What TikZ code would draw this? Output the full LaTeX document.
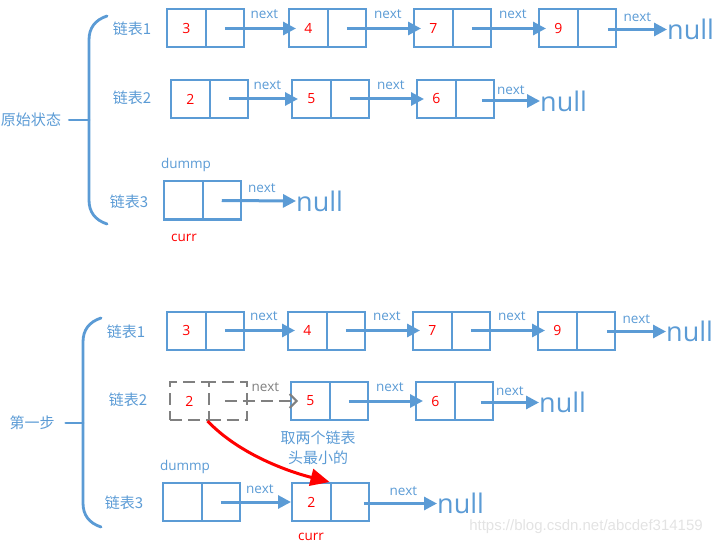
\documentclass[tikz,border=0pt]{standalone}
\usepackage{fontspec}
\setmainfont{Open Sans}
\newfontfamily\cjkf{Noto Sans CJK SC}
\newfontfamily\wmf{Liberation Sans}
\usetikzlibrary{arrows.meta}
\definecolor{ob}{HTML}{5B9BD5}
\definecolor{gr}{HTML}{808080}
\newcommand\llnode[5][]{%
  \node[cell,#1] (#2) at (#3+19.25,#4) {#5};
  \node[cell,#1] (#2p) at (#3+57.75,#4) {};}
\tikzset{
  cell/.style={draw=ob, line width=2pt, minimum width=38.5pt, minimum height=38pt,
    inner sep=0pt, text=red, font=\fontsize{14}{16}\selectfont},
  dcell/.style={draw=gr, dash pattern=on 12pt off 6pt},
  nx/.style={draw=ob, line width=3pt, -{Triangle[length=13pt,width=13pt]}},
  gx/.style={draw=gr, line width=2pt, dash pattern=on 12pt off 6pt,
    -{Straight Barb[length=7pt,width=14pt,line width=2pt]}},
  rx/.style={draw=red, line width=3pt, -{Triangle[length=19pt,width=17pt]}},
  lab/.style={text=ob, font=\fontsize{13.5}{15}\selectfont, inner sep=0pt},
  glab/.style={lab, text=gr},
  rlab/.style={lab, text=red},
  nul/.style={text=ob, font=\fontsize{27}{30}\selectfont, inner sep=0pt, anchor=west},
  cjk/.style={text=ob, font=\cjkf\fontsize{15}{20}\selectfont, inner sep=0pt},
  brace/.style={draw=ob, line width=2.8pt, line cap=round},
}
\begin{document}
\begin{tikzpicture}[x=1pt,y=-1pt]
\useasboundingbox (0,0) rectangle (719,545);

% ---------- top: 原始状态 ----------
\node[cjk] (s0) at (31,120) {原始状态};
\draw[brace] (107,16) .. controls (95,20) and (89,28) .. (89,40) -- (89,200)
  .. controls (89,212) and (95,220) .. (107,224);
\coordinate (b0) at (89,120);
\draw[brace] ([xshift=8pt]s0.east) -- (b0);

\node[cjk] (t1) at (132,29) {链表1};
\node[cjk] (t2) at (132,98) {链表2};
\node[cjk] (t3) at (129,202) {链表3};

\llnode{a1}{167}{28.5}{3}
\llnode{a2}{289}{28.5}{4}
\llnode{a3}{414}{28.5}{7}
\llnode{a4}{539}{28.5}{9}
\draw[nx] (a1p.center) -- ([xshift=8pt]a2.west) node[lab, midway, above=8pt, xshift=4pt] {next};
\draw[nx] (a2p.center) -- ([xshift=8pt]a3.west) node[lab, midway, above=8pt, xshift=4pt] {next};
\draw[nx] (a3p.center) -- ([xshift=8pt]a4.west) node[lab, midway, above=8pt, xshift=4pt] {next};
\node[nul] (n1) at (667,29.5) {null};
\draw[nx] ([xshift=11pt,yshift=-1pt]a4p.center) -- (n1.west) node[lab, midway, above=6pt] {next};

\llnode{b1}{171}{99}{2}
\llnode{b2}{292}{99}{5}
\llnode{b3}{417}{99}{6}
\draw[nx] (b1p.center) -- ([xshift=7pt]b2.west) node[lab, midway, above=8pt, xshift=4pt] {next};
\draw[nx] (b2p.center) -- ([xshift=8pt]b3.west) node[lab, midway, above=8pt, xshift=4pt] {next};
\node[nul] (n2) at (540,101) {null};
\draw[nx] ([xshift=7pt,yshift=-2pt]b3p.center) -- (n2.west) node[lab, midway, above=5pt] {next};

\node[lab] (dm1) at (186,165) {dummp};
\llnode{c1}{164}{200.5}{}
\node[nul] (n3) at (296,201) {null};
\draw[nx] (c1p.center) -- (n3.west) node[lab, midway, above=7pt, xshift=3pt] {next};
\node[rlab] (cu1) at (184,238) {curr};

% ---------- bottom: 第一步 ----------
\node[cjk] (s1) at (32,423) {第一步};
\draw[brace] (101,318) .. controls (89,322) and (83,330) .. (83,342) -- (83,503)
  .. controls (83,515) and (89,523) .. (101,527);
\coordinate (b1c) at (83,423);
\draw[brace] ([xshift=11pt]s1.east) -- (b1c);

\node[cjk] (u1) at (126,332) {链表1};
\node[cjk] (u2) at (128,400) {链表2};
\node[cjk] (u3) at (124,503) {链表3};

\llnode{d1}{167}{330.5}{3}
\llnode{d2}{288}{330.5}{4}
\llnode{d3}{413}{330.5}{7}
\llnode{d4}{538}{330.5}{9}
\draw[nx] (d1p.center) -- ([xshift=8pt]d2.west) node[lab, midway, above=8pt, xshift=4pt] {next};
\draw[nx] (d2p.center) -- ([xshift=8pt]d3.west) node[lab, midway, above=8pt, xshift=4pt] {next};
\draw[nx] (d3p.center) -- ([xshift=8pt]d4.west) node[lab, midway, above=8pt, xshift=4pt] {next};
\node[nul] (n4) at (666,331.5) {null};
\draw[nx] ([xshift=11pt,yshift=-1pt]d4p.center) -- (n4.west) node[lab, midway, above=6pt] {next};

\llnode[dcell]{e1}{170}{401}{2}
\llnode{e2}{291}{401}{5}
\llnode{e3}{416}{401}{6}
\draw[gx] ([xshift=-3pt]e1p.center) -- ([xshift=8pt]e2.west) node[glab, midway, above=8pt, xshift=4pt] {next};
\draw[nx] (e2p.center) -- ([xshift=8pt]e3.west) node[lab, midway, above=8pt, xshift=4pt] {next};
\node[nul] (n5) at (539,402.5) {null};
\draw[nx] ([xshift=7pt,yshift=-1.5pt]e3p.center) -- (n5.west) node[lab, midway, above=5pt] {next};

\node[cjk, align=center] (tip) at (318,448) {取两个链表\\头最小的};

\node[lab] (dm2) at (185,467) {dummp};
\llnode{f1}{163}{502}{}
\llnode{f2}{292}{502}{2}
\draw[nx] (f1p.center) -- (f2.west) node[lab, midway, above=7pt, xshift=4pt] {next};
\node[nul] (n6) at (437,503.5) {null};
\draw[nx] ([xshift=14pt,yshift=-1.5pt]f2p.center) -- (n6.west) node[lab, midway, above=6pt, xshift=3pt] {next};
\node[rlab] (cu2) at (311,537) {curr};

\draw[rx] (e1p.south west) .. controls (240,455) and (290,472) .. (f2p.north west);

\node[text=gray!22, font=\wmf\fontsize{15}{17}\selectfont, inner sep=0pt] (wm) at (586,527) {https://blog.csdn.net/abcdef314159};
\end{tikzpicture}
\end{document}
